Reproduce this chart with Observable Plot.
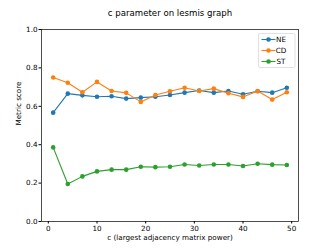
<!DOCTYPE html>
<html><head><meta charset="utf-8">
<script src="https://cdn.jsdelivr.net/npm/d3@7"></script>
<script src="https://cdn.jsdelivr.net/npm/@observablehq/plot@0.6"></script>
<style>
body{margin:0;background:#fff;}
svg{font-family:"DejaVu Sans",sans-serif;}
</style>
</head><body>
<div id="chart"></div>
<script>
const cValues = [1,4,7,10,13,16,19,22,25,28,31,34,37,40,43,46,49];
const neScores = [0.567,0.666,0.657,0.650,0.652,0.640,0.645,0.650,0.659,0.671,0.682,0.671,0.680,0.663,0.678,0.671,0.697];
const cdScores = [0.750,0.723,0.673,0.727,0.680,0.670,0.623,0.659,0.678,0.697,0.680,0.692,0.668,0.649,0.680,0.635,0.673];
const stScores = [0.386,0.195,0.235,0.261,0.270,0.270,0.285,0.283,0.285,0.297,0.292,0.297,0.297,0.289,0.301,0.296,0.294];
const seriesNames = ["NE","CD","ST"];
const seriesColors = ["#1f77b4","#ff7f0e","#2ca02c"];
const xTicks = [0,10,20,30,40,50];
const yTicks = [0,0.2,0.4,0.6,0.8,1.0];
const titleText = "c parameter on lesmis graph";
const xLabel = "c (largest adjacency matrix power)";
const yLabel = "Metric score";

const allSeries = [neScores, cdScores, stScores];
const data = [];
allSeries.forEach((vals, si) => vals.forEach((v, i) => data.push({series: seriesNames[si], c: cValues[i], v})));

const marks = [];
seriesNames.forEach((name, si) => {
  const d = data.filter(r => r.series === name);
  marks.push(Plot.line(d, {x: "c", y: "v", stroke: seriesColors[si], strokeWidth: 1.1}));
  marks.push(Plot.dot(d, {x: "c", y: "v", fill: seriesColors[si], r: 2.3, stroke: "none"}));
});

const plot = Plot.plot({
  width: 332, height: 249,
  marginLeft: 41, marginRight: 34, marginTop: 29, marginBottom: 28,
  style: {fontFamily: "DejaVu Sans, sans-serif", fontSize: "7.2px", color: "#000", background: "#fff"},
  x: {domain: [-1.4, 51.4]},
  y: {domain: [0, 1]},
  marks: [
    Plot.axisX({ticks: xTicks, tickSize: 2.5, tickPadding: 1.5, fontSize: 7.2, label: null, tickFormat: d3.format("d")}),
    Plot.axisY({ticks: yTicks, tickSize: 2.5, tickPadding: 1.5, fontSize: 7.2, label: null, tickFormat: d3.format(".1f")}),
    Plot.frame({stroke: "#000", strokeWidth: 0.7}),
    ...marks,
    Plot.text([titleText], {frameAnchor: "top", dy: -20, fontSize: 8.6, fill: "#000", text: d => d}),
    Plot.text([xLabel], {frameAnchor: "bottom", dy: 18, fontSize: 7.2, fill: "#000", text: d => d}),
    Plot.text([yLabel], {frameAnchor: "left", dx: -23, rotate: -90, fontSize: 7.2, fill: "#000", text: d => d})
  ]
});
document.getElementById("chart").appendChild(plot);

// legend
const svg = d3.select(plot);
const lg = svg.append("g");
lg.append("rect").attr("x", 258.5).attr("y", 33.5).attr("width", 36.5).attr("height", 34)
  .attr("rx", 1.5).attr("fill", "#fff").attr("fill-opacity", 0.8).attr("stroke", "#ccc").attr("stroke-width", 0.6);
seriesNames.forEach((name, i) => {
  const y = 39.5 + i * 11;
  lg.append("line").attr("x1", 261.5).attr("x2", 275.5).attr("y1", y).attr("y2", y)
    .attr("stroke", seriesColors[i]).attr("stroke-width", 1.1);
  lg.append("circle").attr("cx", 268.5).attr("cy", y).attr("r", 2.3).attr("fill", seriesColors[i]);
  lg.append("text").attr("x", 281).attr("y", y).attr("dy", "0.35em").attr("font-size", 7.2).attr("fill", "#000").text(name);
});
</script>
</body></html>
